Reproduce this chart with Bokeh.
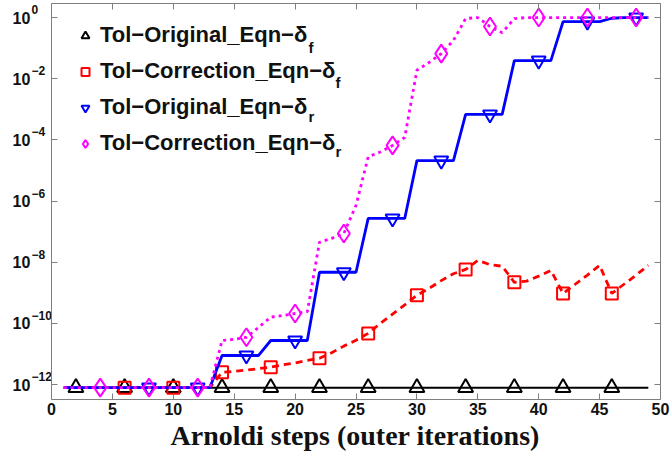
from bokeh.plotting import figure
from bokeh.models import (FixedTicker, LinearAxis, LogAxis, Legend, LegendItem,
                          Label, Range1d, ColumnDataSource, Title)
from bokeh.core.properties import value
from bokeh.embed import file_html
from bokeh.resources import INLINE

# ---------------- data ----------------
steps = list(range(1, 50))

orig_f = [7.9e-13, 7.9e-13, 7.9e-13, 7.9e-13, 7.9e-13, 7.9e-13, 7.9e-13,
          7.9e-13, 7.9e-13, 7.9e-13, 7.9e-13, 7.9e-13, 7.9e-13, 7.9e-13,
          7.9e-13, 7.9e-13, 7.9e-13, 7.9e-13, 7.9e-13, 7.9e-13, 7.9e-13,
          7.9e-13, 7.9e-13, 7.9e-13, 7.9e-13, 7.9e-13, 7.9e-13, 7.9e-13,
          7.9e-13, 7.9e-13, 7.9e-13, 7.9e-13, 7.9e-13, 7.9e-13, 7.9e-13,
          7.9e-13, 7.9e-13, 7.9e-13, 7.9e-13, 7.9e-13, 7.9e-13, 7.9e-13,
          7.9e-13, 7.9e-13, 7.9e-13, 7.9e-13, 7.9e-13, 7.9e-13, 7.9e-13]

corr_f = [7.9e-13, 7.9e-13, 7.9e-13, 7.9e-13, 7.9e-13, 7.9e-13, 7.9e-13,
          7.9e-13, 7.9e-13, 7.9e-13, 7.9e-13, 7.9e-13, 7.9e-13,
          2.5e-12, 2.7e-12, 2.95e-12, 3.3e-12, 3.7e-12, 4.4e-12, 5.1e-12,
          6.2e-12, 7.2e-12, 1.1e-11, 1.8e-11, 2.8e-11, 4.7e-11, 1.0e-10,
          2.0e-10, 4.0e-10, 8.3e-10, 1.4e-9, 2.5e-9, 4.2e-9, 5.8e-9,
          1.15e-8, 8.3e-9, 7.4e-9, 2.2e-9, 2.4e-9, 3.5e-9, 5.4e-9,
          9.5e-10, 1.9e-9, 3.8e-9, 7.9e-9, 9.5e-10, 1.9e-9, 3.8e-9, 7.9e-9]

orig_r = [7.9e-13, 7.9e-13, 7.9e-13, 7.9e-13, 7.9e-13, 7.9e-13, 7.9e-13,
          7.9e-13, 7.9e-13, 7.9e-13, 7.9e-13, 7.9e-13, 7.9e-13,
          8.9e-12, 8.9e-12, 8.9e-12, 8.9e-12,
          2.75e-11, 2.75e-11, 2.75e-11, 2.75e-11,
          4.7e-9, 4.7e-9, 4.7e-9, 4.7e-9,
          2.7e-7, 2.7e-7, 2.7e-7, 2.7e-7,
          2.1e-5, 2.1e-5, 2.1e-5, 2.1e-5,
          6.8e-4, 6.8e-4, 6.8e-4, 6.8e-4,
          3.9e-2, 3.9e-2, 3.9e-2, 3.9e-2,
          0.74, 0.74, 0.74, 0.74,
          0.95, 1.0, 1.0, 1.0]

corr_r = [7.9e-13, 7.9e-13, 7.9e-13, 7.9e-13, 7.9e-13, 7.9e-13, 7.9e-13,
          7.9e-13, 7.9e-13, 7.9e-13, 7.9e-13, 7.9e-13, 7.9e-13,
          2.75e-11, 3.0e-11, 3.5e-11, 7.4e-11, 1.6e-10, 1.8e-10, 2.1e-10,
          2.4e-10, 4.5e-8, 6.0e-8, 8.7e-8, 7.2e-7, 2.8e-5, 4.0e-5, 6.6e-5,
          1.2e-4, 1.9e-2, 3.4e-2, 6.6e-2, 0.18, 0.93, 1.0, 0.51, 0.32, 0.93,
          1.0, 1.0, 1.0, 1.0, 1.0, 1.0, 1.0, 1.0, 1.0, 1.0, 1.0]

orig_f_marks = [2, 6, 10, 14, 18, 22, 26, 30, 34, 38, 42, 46]
corr_f_marks = [6, 10, 14, 18, 22, 26, 30, 34, 38, 42, 46]
orig_r_marks = [8, 12, 16, 20, 24, 28, 32, 36, 40, 44, 48]
corr_r_marks = [4, 8, 12, 16, 20, 24, 28, 32, 36, 40, 44, 48]

x_ticks = [0, 5, 10, 15, 20, 25, 30, 35, 40, 45, 50]
y_ticks = [1e-12, 1e-10, 1e-8, 1e-6, 1e-4, 1e-2, 1.0]
y_tick_base = ["10", "10", "10", "10", "10", "10", "10"]
y_tick_exponents = ["\u221212", "\u221210", "\u22128", "\u22126", "\u22124", "\u22122", "0"]

legend_labels = ["Tol\u2212Original_Eqn\u2212\u03b4", "Tol\u2212Correction_Eqn\u2212\u03b4",
                 "Tol\u2212Original_Eqn\u2212\u03b4", "Tol\u2212Correction_Eqn\u2212\u03b4"]
legend_subs = ["f", "f", "r", "r"]
x_title = "Arnoldi steps (outer iterations)"

# ---------------- figure ----------------
# The frame spans the full width so that the left-aligned "10^k" labels
# (drawn as text) are not clipped; the axes are limited to x in [0, 50].
W, H = 670, 453
X0, X1 = 0, 50
p = figure(width=W, height=H, y_axis_type="log",
           x_range=Range1d(-4.19, X1), y_range=Range1d(10 ** -12.49, 10 ** 0.46),
           output_backend="svg", toolbar_location=None,
           min_border_left=0, min_border_right=10, min_border_top=3,
           min_border_bottom=54)
p.background_fill_color = "white"
p.border_fill_color = "white"
p.outline_line_color = None
p.xgrid.visible = False
p.ygrid.visible = False

AX = "#7f7f7f"
FONT = "Liberation Sans"
TXT = "#111111"


def style_axis(ax):
    ax.axis_line_color = AX
    ax.major_tick_line_color = AX
    ax.major_tick_in = 6
    ax.major_tick_out = 0
    ax.minor_tick_line_color = None
    ax.major_label_text_font = FONT
    ax.major_label_text_font_style = "bold"
    ax.major_label_text_font_size = "16px"
    ax.major_label_text_color = TXT


xa = p.xaxis[0]
style_axis(xa)
xa.ticker = FixedTicker(ticks=x_ticks)
xa.bounds = (X0, X1)
xa.major_label_standoff = 3

# x-axis title, placed under the [0, 50] axis (frame is wider on the left)
p.add_layout(Title(text=x_title, align="left", offset=170, standoff=0,
                   text_font="Liberation Serif", text_font_style="bold",
                   text_font_size="28px", text_color=TXT), "below")

ya = p.yaxis[0]
style_axis(ya)
ya.ticker = FixedTicker(ticks=y_ticks)
ya.fixed_location = X0
ya.major_label_overrides = {t: "" for t in y_ticks}
ya.major_label_standoff = 0
ya.major_label_text_font_size = "0px"

top = LinearAxis(ticker=FixedTicker(ticks=x_ticks), bounds=(X0, X1),
                 major_label_overrides={t: "" for t in x_ticks})
style_axis(top)
top.major_label_text_font_size = "0px"
top.major_label_standoff = 0
p.add_layout(top, "above")

right = LogAxis(ticker=FixedTicker(ticks=y_ticks),
                major_label_overrides={t: "" for t in y_ticks})
style_axis(right)
right.major_label_text_font_size = "0px"
right.major_label_standoff = 0
p.add_layout(right, "right")

# left-aligned "10^k" tick labels: base + raised exponent, anchored at the axis
ylab = ColumnDataSource(dict(y=y_ticks, base=y_tick_base, exp=y_tick_exponents))
p.text(x=X0, y="y", text="base", source=ylab, x_offset=-39,
       text_font=value(FONT), text_font_style="bold", text_font_size="16px",
       text_color=TXT, text_align="left", text_baseline="middle")
p.text(x=X0, y="y", text="exp", source=ylab, x_offset=-20, y_offset=-8,
       text_font=value(FONT), text_font_style="bold", text_font_size="12px",
       text_color=TXT, text_align="left", text_baseline="middle")

# ---------------- series ----------------
series = [
    (orig_f, orig_f_marks, "#000000", "solid", 2, "triangle", 15),
    (corr_f, corr_f_marks, "#ff0000", "7 5", 2.8, "square", 12),
    (orig_r, orig_r_marks, "#0000ff", "solid", 2.8, "inverted_triangle", 14),
    (corr_r, corr_r_marks, "#ff00ff", "3 4", 2.8, "diamond", 18),
]

marker_renderers = []
for vals, marks, color, dash, lw, marker, size in series:
    src = ColumnDataSource(dict(x=steps, y=vals))
    p.line("x", "y", source=src, line_color=color, line_width=lw, line_dash=dash)
    msrc = ColumnDataSource(dict(x=marks, y=[vals[steps.index(m)] for m in marks]))
    r = p.scatter("x", "y", source=msrc, marker=marker, size=size,
                  line_color=color, line_width=2, fill_color=None)
    marker_renderers.append(r)

# ---------------- legend ----------------
items = [LegendItem(label=lab, renderers=[r]) for lab, r in zip(legend_labels, marker_renderers)]
legend = Legend(items=items, location=(75, 243), padding=0, spacing=10,
                label_height=25, glyph_height=25, glyph_width=20, label_standoff=5,
                border_line_color=None, background_fill_alpha=0,
                label_text_font=FONT, label_text_font_style="bold",
                label_text_font_size="22px", label_text_color=TXT)
p.add_layout(legend, "center")

sub_x = [308, 335, 308, 335]
sub_y = [352, 317.5, 283, 248.5]
for s, sx, sy in zip(legend_subs, sub_x, sub_y):
    p.add_layout(Label(x=sx, y=sy, x_units="screen", y_units="screen", text=s,
                       text_font=FONT, text_font_style="bold", text_font_size="15px",
                       text_color=TXT, text_baseline="middle"))

open("out.html", "w").write(file_html(p, INLINE))
